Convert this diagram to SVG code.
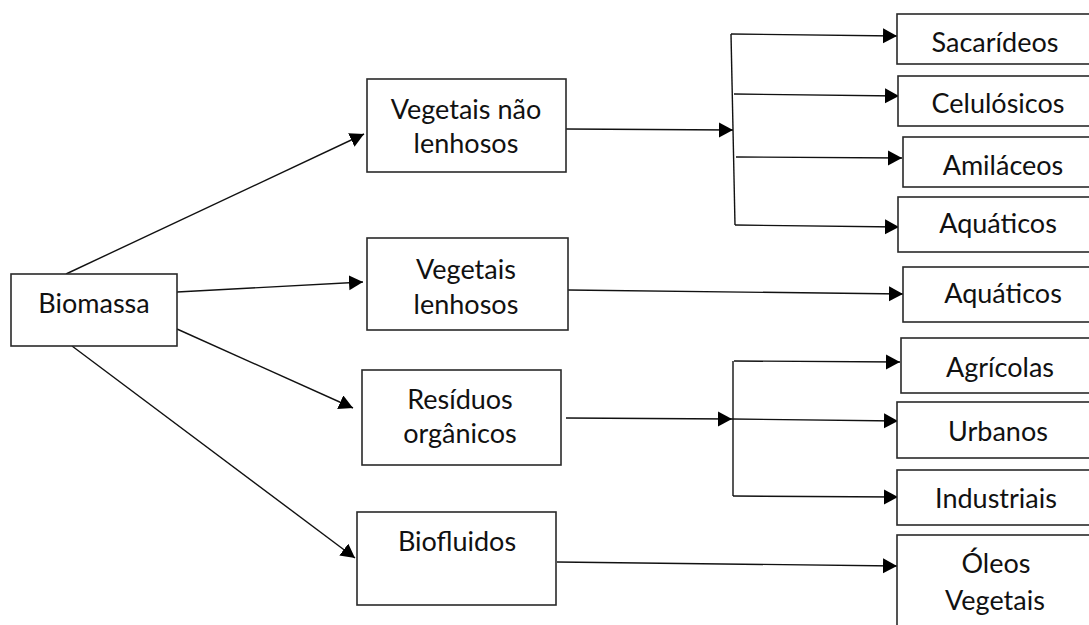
<svg xmlns="http://www.w3.org/2000/svg" width="1089" height="625" viewBox="0 0 1089 625">
<defs>
<style>
.box{fill:#fff;stroke:#2a2a2a;stroke-width:1.6}
.t{font-family:Lato,"Open Sans","Liberation Sans",sans-serif;font-size:27px;fill:#111;text-anchor:middle}
.c{fill:none;stroke:#111;stroke-width:1.4}
</style>
<marker id="ah" markerUnits="userSpaceOnUse" markerWidth="15" markerHeight="16" refX="14" refY="7.5" orient="auto">
<path d="M0,0 L14,7.5 L0,15 z" fill="#000"/>
</marker>
</defs>
<rect width="1089" height="625" fill="#fff"/>
<g id="connectors">
<path class="c" d="M66,274 L364,134" marker-end="url(#ah)"/>
<path class="c" d="M177,292 L363,282" marker-end="url(#ah)"/>
<path class="c" d="M177,329 L353,408" marker-end="url(#ah)"/>
<path class="c" d="M72,346 L355,558" marker-end="url(#ah)"/>
<path class="c" d="M566,129 L733,130" marker-end="url(#ah)"/>
<path class="c" d="M731,34 L735,225"/>
<path class="c" d="M731,34 L897,36" marker-end="url(#ah)"/>
<path class="c" d="M734,94 L899,96" marker-end="url(#ah)"/>
<path class="c" d="M736,157 L902,158" marker-end="url(#ah)"/>
<path class="c" d="M735,225 L899,227" marker-end="url(#ah)"/>
<path class="c" d="M568,290 L903,294" marker-end="url(#ah)"/>
<path class="c" d="M566,418 L732,419" marker-end="url(#ah)"/>
<path class="c" d="M733,361 L733,496"/>
<path class="c" d="M734,361 L900,362" marker-end="url(#ah)"/>
<path class="c" d="M732,419 L898,421" marker-end="url(#ah)"/>
<path class="c" d="M733,496 L898,497" marker-end="url(#ah)"/>
<path class="c" d="M557,562 L897,566" marker-end="url(#ah)"/>
</g>
<g id="biomassa"><rect class="box" x="11" y="274" width="166" height="72"/><text class="t" x="94" y="313">Biomassa</text></g>
<g id="vnl"><rect class="box" x="367" y="79" width="199" height="93"/><text class="t" x="466" y="119">Vegetais não</text><text class="t" x="466" y="153">lenhosos</text></g>
<g id="vl"><rect class="box" x="367" y="238" width="201" height="92"/><text class="t" x="466" y="279">Vegetais</text><text class="t" x="466" y="314">lenhosos</text></g>
<g id="ro"><rect class="box" x="362" y="370" width="199" height="95"/><text class="t" x="460" y="409">Resíduos</text><text class="t" x="460" y="443">orgânicos</text></g>
<g id="bio"><rect class="box" x="357" y="512" width="199" height="93"/><text class="t" x="457" y="551">Biofluidos</text></g>
<g id="sac"><rect class="box" x="897" y="14" width="200" height="50"/><text class="t" x="995" y="52">Sacarídeos</text></g>
<g id="cel"><rect class="box" x="898" y="76" width="200" height="50"/><text class="t" x="998" y="113">Celulósicos</text></g>
<g id="ami"><rect class="box" x="903" y="137" width="200" height="50"/><text class="t" x="1003" y="175">Amiláceos</text></g>
<g id="aq1"><rect class="box" x="898" y="197" width="200" height="55"/><text class="t" x="998" y="233">Aquáticos</text></g>
<g id="aq2"><rect class="box" x="903" y="267" width="200" height="55"/><text class="t" x="1003" y="303">Aquáticos</text></g>
<g id="agr"><rect class="box" x="901" y="338" width="200" height="55"/><text class="t" x="1000" y="377">Agrícolas</text></g>
<g id="urb"><rect class="box" x="897" y="402" width="200" height="56"/><text class="t" x="998" y="441">Urbanos</text></g>
<g id="ind"><rect class="box" x="897" y="470" width="200" height="55"/><text class="t" x="996" y="508">Industriais</text></g>
<g id="ole"><rect class="box" x="897" y="535" width="200" height="110"/><text class="t" x="996" y="573">Óleos</text><text class="t" x="995" y="610">Vegetais</text></g>
</svg>
